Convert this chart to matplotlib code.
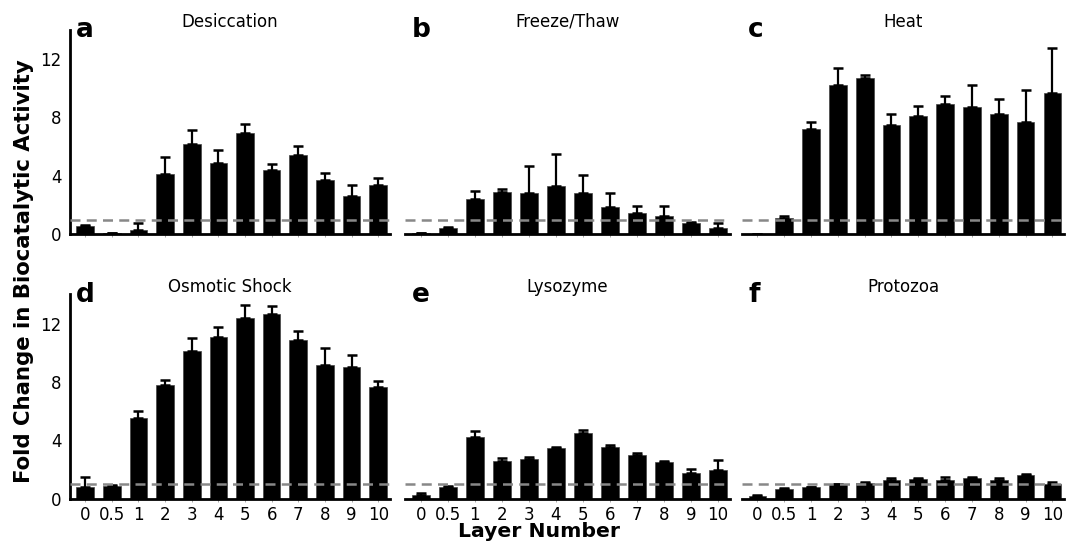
import numpy as np
import matplotlib.pyplot as plt

layers = ["0", "0.5", "1", "2", "3", "4", "5", "6", "7", "8", "9", "10"]

titles = ["Desiccation", "Freeze/Thaw", "Heat", "Osmotic Shock", "Lysozyme", "Protozoa"]
letters = ["a", "b", "c", "d", "e", "f"]

desiccation = [0.57, 0.07, 0.30, 4.14, 6.20, 4.90, 6.90, 4.37, 5.45, 3.68, 2.60, 3.38]
desiccation_err = [0.07, 0.0, 0.50, 1.15, 0.93, 0.85, 0.62, 0.46, 0.57, 0.50, 0.78, 0.46]

freeze_thaw = [0.07, 0.41, 2.41, 2.87, 2.80, 3.33, 2.83, 1.89, 1.45, 1.22, 0.80, 0.46]
freeze_thaw_err = [0.0, 0.07, 0.57, 0.20, 1.84, 2.14, 1.22, 0.92, 0.48, 0.69, 0.07, 0.30]

heat = [0.05, 1.10, 7.20, 10.20, 10.70, 7.50, 8.10, 8.90, 8.70, 8.25, 7.70, 9.65]
heat_err = [0.0, 0.14, 0.48, 1.15, 0.18, 0.71, 0.71, 0.55, 1.52, 1.03, 2.18, 3.10]

osmotic = [0.78, 0.87, 5.50, 7.76, 10.10, 11.10, 12.37, 12.63, 10.87, 9.16, 9.00, 7.65]
osmotic_err = [0.73, 0.05, 0.52, 0.34, 0.94, 0.68, 0.91, 0.55, 0.62, 1.16, 0.84, 0.39]

lysozyme = [0.25, 0.84, 4.25, 2.58, 2.70, 3.45, 4.50, 3.52, 2.97, 2.49, 1.80, 2.00]
lysozyme_err = [0.18, 0.05, 0.41, 0.23, 0.13, 0.11, 0.20, 0.16, 0.18, 0.09, 0.23, 0.64]

protozoa = [0.20, 0.70, 0.78, 1.00, 1.05, 1.28, 1.35, 1.32, 1.42, 1.28, 1.62, 1.00]
protozoa_err = [0.05, 0.05, 0.06, 0.02, 0.07, 0.11, 0.09, 0.18, 0.08, 0.16, 0.11, 0.16]

series = [
    (desiccation, desiccation_err),
    (freeze_thaw, freeze_thaw_err),
    (heat, heat_err),
    (osmotic, osmotic_err),
    (lysozyme, lysozyme_err),
    (protozoa, protozoa_err),
]

fig = plt.figure(figsize=(10.72, 5.41), dpi=100)

lefts = [0.065, 0.378, 0.692]
widths = [0.299, 0.303, 0.301]
bottoms = [0.567, 0.078]
height = 0.378

x = np.arange(len(layers))

for i, (vals, errs) in enumerate(series):
    row, col = divmod(i, 3)
    ax = fig.add_axes([lefts[col], bottoms[row], widths[col], height])
    vals = np.array(vals)
    errs = np.array(errs)
    ax.bar(x, vals, width=0.66, color="black", edgecolor="#444444", linewidth=0.5,
           yerr=[np.zeros_like(errs), errs], capsize=3.5,
           error_kw=dict(ecolor="black", elinewidth=1.6, capthick=1.8))
    ax.axhline(1, color="#888888", linestyle=(0, (4, 2.5)), linewidth=1.8, zorder=3)

    ax.set_xlim(-0.58, 11.45)
    ax.set_ylim(0, 14)
    ax.set_yticks([0, 4, 8, 12])
    ax.set_xticks(x)
    if row == 1:
        ax.set_xticklabels(layers, fontsize=12)
    else:
        ax.set_xticklabels([])
    ax.tick_params(axis="x", length=2, width=0.6, color="#999999", pad=3)

    for s in ["top", "right"]:
        ax.spines[s].set_visible(False)
    ax.spines["bottom"].set_linewidth(2)
    if col == 0:
        ax.spines["left"].set_linewidth(2)
        ax.tick_params(axis="y", labelsize=12, length=0, pad=6)
    else:
        ax.spines["left"].set_visible(False)
        ax.set_yticks([])

    ax.set_title(titles[i], fontsize=12, pad=2, y=1.0)
    ax.text(0.02, 1.06, letters[i], transform=ax.transAxes, fontsize=19,
            fontweight="bold", va="top", ha="left")

fig.text(0.022, 0.498, "Fold Change in Biocatalytic Activity", rotation=90,
         fontsize=15.3, fontweight="bold", ha="center", va="center")
fig.text(0.503, 0.017, "Layer Number", fontsize=14.7, fontweight="bold",
         ha="center", va="center")

fig.savefig("out.png", dpi=100)
